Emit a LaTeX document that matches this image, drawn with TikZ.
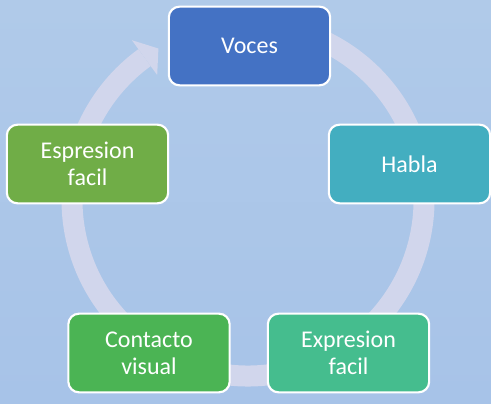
\documentclass[tikz,border=0pt]{standalone}
\usepackage{fontspec}
\setmainfont{Carlito}
\usepackage{tikz}
\usetikzlibrary{calc}
\usetikzlibrary{positioning}
\definecolor{bgtop}{HTML}{B0CAE9}
\definecolor{bgbot}{HTML}{A7C3E8}
\definecolor{ringc}{HTML}{D1D6EC}
\definecolor{cvoces}{HTML}{4472C4}
\definecolor{chabla}{HTML}{43AEC0}
\definecolor{cexpr}{HTML}{45BD8E}
\definecolor{ccont}{HTML}{4BB454}
\definecolor{cespr}{HTML}{70AD47}
\tikzstyle{box} = [draw = white, line width = 1.6pt, rounded corners = 8pt, minimum width = 121pt, minimum height = 59pt, align = center, text = white, font = \fontsize{18}{20}\selectfont, inner sep = 2pt]
\tikzstyle{ring} = [draw = ringc, line width = 15.75pt, line cap = butt]

\begin{document}
\begin{tikzpicture}[x = 0.75pt, y = 0.75pt]
\useasboundingbox (0, 0) rectangle (491, 403);
\shade [top color = bgtop, bottom color = bgbot] (0, 0) rectangle (491, 403);
\coordinate (C) at (248, 203);
% circular arrow behind the boxes
\draw [ring] ($(C)+(100:176)$) arc [start angle = 100, end angle = -234, radius = 176];
\fill [ringc] ($(C)+(126:154.5)$) -- ($(C)+(120.6:176)$) -- ($(C)+(126:197.5)$) -- cycle;
\node [box, fill = cvoces] (V) at (249.5, 357) {Voces};
\node [box, fill = chabla] (H) at (409.5, 239) {Habla};
\node [box, fill = cexpr] (E) at (348.5, 50) {Expresion\\facil};
\node [box, fill = ccont] (CV) at (149, 50) {Contacto\\visual};
\node [box, fill = cespr] (ES) at (87.5, 239) {Espresion\\facil};
\end{tikzpicture}
\end{document}
